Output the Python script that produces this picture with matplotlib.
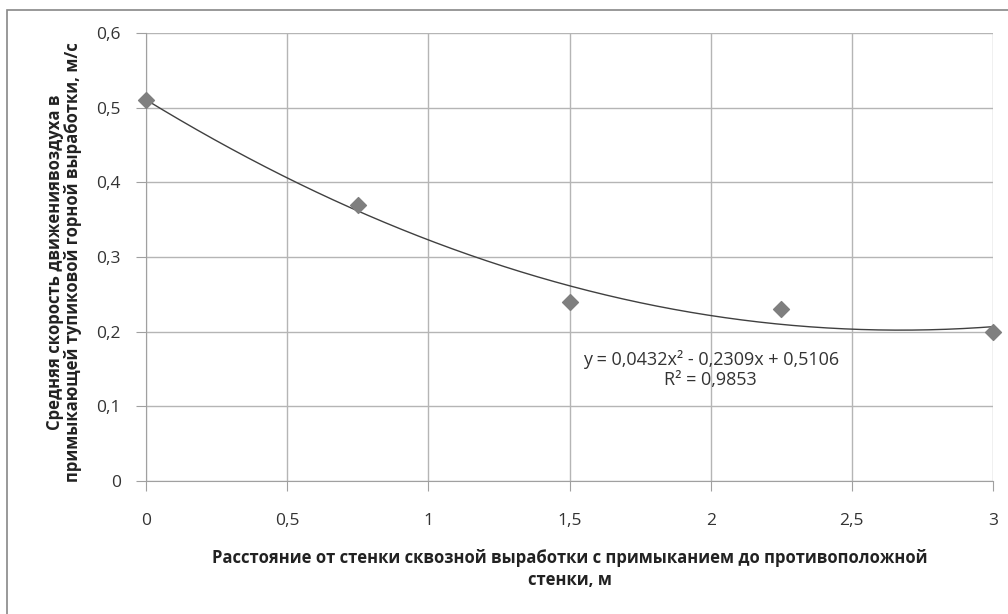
import numpy as np
import matplotlib.pyplot as plt
from matplotlib.patches import Rectangle

plt.rcParams['font.family'] = ['Open Sans', 'DejaVu Sans']

# данные
x = [0, 0.75, 1.5, 2.25, 3]
y = [0.51, 0.37, 0.24, 0.23, 0.20]
coef = [0.0432, -0.2309, 0.5106]
eq_text = "y = 0,0432x² - 0,2309x + 0,5106\nR² = 0,9853"
xticks = [0, 0.5, 1, 1.5, 2, 2.5, 3]
xtick_labels = ['0', '0,5', '1', '1,5', '2', '2,5', '3']
yticks = [0, 0.1, 0.2, 0.3, 0.4, 0.5, 0.6]
ytick_labels = ['0', '0,1', '0,2', '0,3', '0,4', '0,5', '0,6']

fig = plt.figure(figsize=(10.08, 6.14), dpi=100)
fig.patches.append(Rectangle((7 / 1008, -0.05), 1.1, 1 - 10 / 614 + 0.05,
                             transform=fig.transFigure, fill=False,
                             edgecolor='#888888', linewidth=1.2))
ax = fig.add_axes([146 / 1008, 1 - 481 / 614, (993 - 146) / 1008, (481 - 33) / 614])

xx = np.linspace(0, 3, 200)
ax.plot(xx, np.polyval(coef, xx), color='#404040', linewidth=1.0, zorder=2)
ax.scatter(x, y, marker='D', s=65, color='#7f7f7f', zorder=3, clip_on=False)

ax.set_xlim(0, 3)
ax.set_ylim(0, 0.6)
ax.set_xticks(xticks)
ax.set_xticklabels(xtick_labels)
ax.set_yticks(yticks)
ax.set_yticklabels(ytick_labels)
ax.grid(True, color='#b5b5b5', linewidth=1.0)
ax.set_axisbelow(True)
for s in ['top', 'right']:
    ax.spines[s].set_visible(False)
for s in ['left', 'bottom']:
    ax.spines[s].set_color('#a0a0a0')
ax.tick_params(direction='out', length=7, color='#a0a0a0', labelsize=12.5,
               labelcolor='#333333')
ax.tick_params(axis='x', pad=16)
ax.tick_params(axis='y', pad=11)

ax.text(2.0, 0.149, eq_text, fontsize=13, color='#333333', ha='center', va='center',
        multialignment='center', linespacing=1.15)

fig.text(64 / 1008, 1 - 262 / 614,
         "Средняя скорость движениявоздуха в\nпримыкающей тупиковой горной выработки, м/с",
         rotation=90, ha='center', va='center', fontsize=12, fontweight='bold',
         color='#222222', linespacing=1.0)
fig.text(570 / 1008, 1 - 569 / 614,
         "Расстояние от стенки сквозной выработки с примыканием до противоположной\nстенки, м",
         ha='center', va='center', fontsize=12, fontweight='bold', color='#222222',
         linespacing=1.35)

fig.savefig('out.png', dpi=100)
